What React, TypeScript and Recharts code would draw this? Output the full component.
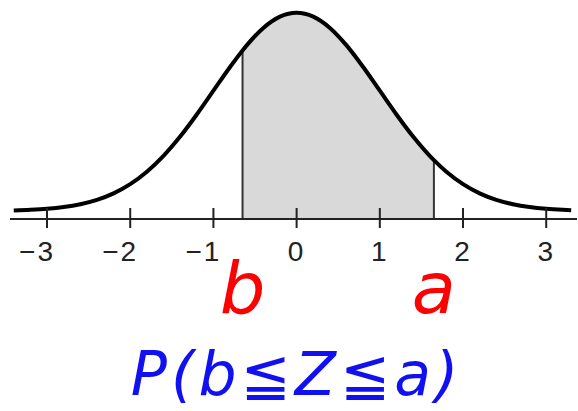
import React from 'react';
import { ComposedChart, Line, Area, XAxis, YAxis, ReferenceLine, ReferenceDot } from 'recharts';

// Standard normal density φ(z) sampled along the axis (plus the two bounds b and a)
const zValues = [
  -3.4, -3.2, -3.0, -2.8, -2.6, -2.4, -2.2, -2.0, -1.8, -1.6, -1.4, -1.2, -1.0, -0.8,
  -0.65, -0.6, -0.4, -0.2, 0, 0.2, 0.4, 0.6, 0.8, 1.0, 1.2, 1.4, 1.6, 1.65, 1.8, 2.0,
  2.2, 2.4, 2.6, 2.8, 3.0, 3.2, 3.3,
];
const density = [
  0.0012, 0.0024, 0.0044, 0.0079, 0.0136, 0.0224, 0.0355, 0.054, 0.079, 0.1109, 0.1497, 0.1942, 0.242, 0.2897,
  0.323, 0.3332, 0.3683, 0.391, 0.3989, 0.391, 0.3683, 0.3332, 0.2897, 0.242, 0.1942, 0.1497, 0.1109, 0.1023, 0.079, 0.054,
  0.0355, 0.0224, 0.0136, 0.0079, 0.0044, 0.0024, 0.0017,
];

// Interval bounds
const lowerB = -0.65;
const upperA = 1.65;
const lowerDensity = 0.323;
const upperDensity = 0.1023;

const tickValues = [-3, -2, -1, 0, 1, 2, 3];
const tickLabels = ['\u22123', '\u22122', '\u22121', '0', '1', '2', '3'];

const X_MIN = -3.445;
const X_MAX = 3.37;
const Y_MIN = -0.0161;
const Y_MAX = 0.4245;

const data = zValues.map((z, i) => ({
  z,
  pdf: density[i],
  shade: z >= lowerB && z <= upperA ? density[i] : null,
}));

const AxisTick = (props: any) => {
  const { x, y, payload } = props;
  const idx = tickValues.indexOf(payload.value);
  const label = tickLabels[idx];
  const negative = label.startsWith('\u2212');
  return (
    <g>
      <line x1={x} x2={x} y1={y - 11} y2={y + 9} stroke="#222" strokeWidth={2} />
      <text
        x={negative ? x - 10 : x}
        y={y + 42}
        textAnchor="middle"
        fontSize={28}
        fontFamily="'Liberation Sans', Arial, sans-serif"
        fill="#222"
        letterSpacing={2}
      >
        {label}
      </text>
    </g>
  );
};

const boundLabel = (text: string) => (p: any) => (
  <text
    x={p.cx}
    y={p.cy + 94}
    textAnchor="middle"
    fontSize={72}
    fontStyle="italic"
    fontFamily="'DejaVu Sans', sans-serif"
    fill="#ff0000"
  >
    {text}
  </text>
);

const probabilityLabel = (p: any) => (
  <text
    x={p.cx}
    y={p.cy + 176}
    textAnchor="middle"
    fontSize={60}
    fontStyle="italic"
    letterSpacing={4}
    fontFamily="'DejaVu Sans', sans-serif"
    fill="#1010f0"
  >
    P(b≦Z≦a)
  </text>
);

export default function App() {
  return (
    <div style={{ position: 'absolute', left: 0, top: 0, width: 578, height: 411, background: '#fff' }}>
      <ComposedChart
        width={578}
        height={411}
        data={data}
        margin={{ top: 0, right: 1, bottom: 132, left: 10 }}
      >
        <XAxis
          dataKey="z"
          type="number"
          domain={[X_MIN, X_MAX]}
          ticks={tickValues}
          tickSize={0}
          tickMargin={0}
          height={60}
          axisLine={{ stroke: '#222', strokeWidth: 2 }}
          tickLine={false}
          tick={<AxisTick />}
          allowDataOverflow
        />
        <YAxis type="number" domain={[Y_MIN, Y_MAX]} hide allowDataOverflow />
        <Area
          dataKey="shade"
          type="monotone"
          baseValue={Y_MIN}
          fill="#d9d9d9"
          fillOpacity={1}
          stroke="none"
          isAnimationActive={false}
          connectNulls={false}
        />
        <ReferenceLine
          segment={[{ x: lowerB, y: Y_MIN }, { x: lowerB, y: lowerDensity }]}
          stroke="#333"
          strokeWidth={2}
        />
        <ReferenceLine
          segment={[{ x: upperA, y: Y_MIN }, { x: upperA, y: upperDensity }]}
          stroke="#333"
          strokeWidth={2}
        />
        <Line
          dataKey="pdf"
          type="monotone"
          stroke="#000"
          strokeWidth={4}
          dot={false}
          isAnimationActive={false}
        />
        <ReferenceDot x={lowerB} y={Y_MIN} r={0} shape={boundLabel('b')} />
        <ReferenceDot x={upperA} y={Y_MIN} r={0} shape={boundLabel('a')} />
        <ReferenceDot x={0} y={Y_MIN} r={0} shape={probabilityLabel} />
      </ComposedChart>
    </div>
  );
}
